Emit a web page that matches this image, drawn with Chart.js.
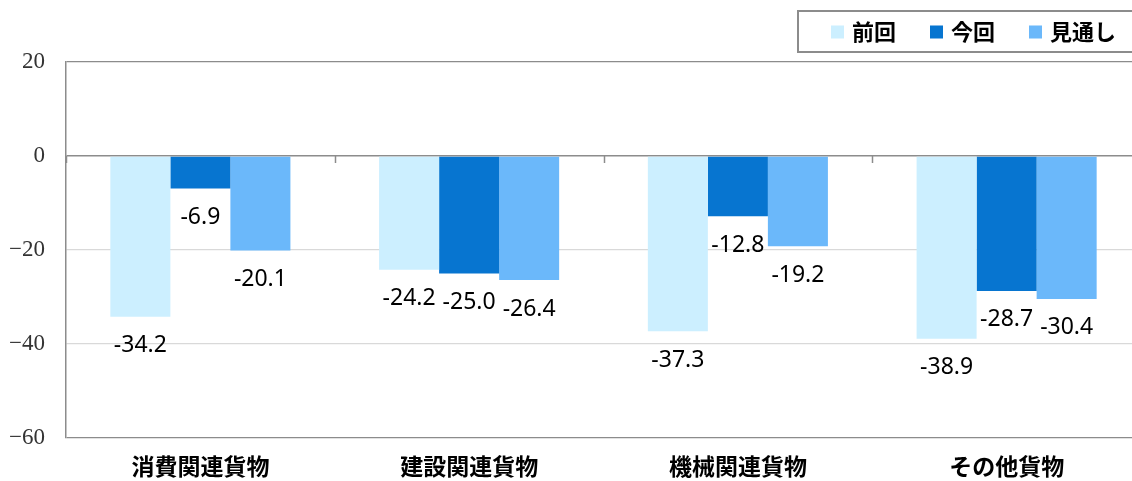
<!DOCTYPE html>
<html>
<head>
<meta charset="utf-8">
<script src="https://cdn.jsdelivr.net/npm/chart.js@4.4.1/dist/chart.umd.min.js"></script>
<style>
  html, body { margin: 0; padding: 0; background: #fff; overflow: hidden; }
  #wrap { width: 1141px; height: 481px; }
</style>
</head>
<body>
<div id="wrap"><canvas id="chart"></canvas></div>
<script>
const categories = ['消費関連貨物', '建設関連貨物', '機械関連貨物', 'その他貨物'];
const seriesNames = ['前回', '今回', '見通し'];
const prevValues = [-34.2, -24.2, -37.3, -38.9];
const currValues = [-6.9, -25.0, -12.8, -28.7];
const outlookValues = [-20.1, -26.4, -19.2, -30.4];
const yMin = -60, yMax = 20, yStep = 20;
const colors = ['#ccefff', '#0775d0', '#6bb8fa'];

const AXIS_GRAY = '#8c8c8c';
const GRID_GRAY = '#d9d9d9';

// numbers under each bar end
const valueLabels = {
  id: 'valueLabels',
  afterDatasetsDraw(chart) {
    const ctx = chart.ctx;
    ctx.save();
    ctx.font = '23px "Noto Sans"';
    ctx.fillStyle = '#000';
    ctx.textAlign = 'center';
    ctx.textBaseline = 'middle';
    chart.data.datasets.forEach((ds, i) => {
      chart.getDatasetMeta(i).data.forEach((bar, j) => {
        ctx.fillText(ds.data[j].toFixed(1), bar.x, bar.y + 29);
      });
    });
    ctx.restore();
  }
};

// small tick marks on the zero line between categories
const zeroTicks = {
  id: 'zeroTicks',
  afterDraw(chart) {
    const x = chart.scales.x, y = chart.scales.y;
    const y0 = y.getPixelForValue(0);
    const ctx = chart.ctx;
    ctx.save();
    ctx.strokeStyle = AXIS_GRAY;
    ctx.lineWidth = 1.5;
    for (let i = 0; i <= categories.length; i++) {
      const px = Math.round(x.getPixelForValue(i - 0.5)) + 0.5;
      ctx.beginPath();
      ctx.moveTo(px, y0);
      ctx.lineTo(px, y0 + 7);
      ctx.stroke();
    }
    ctx.restore();
  }
};

// boxed legend, top right
const boxLegend = {
  id: 'boxLegend',
  afterDraw(chart) {
    const ctx = chart.ctx;
    ctx.save();
    ctx.strokeStyle = AXIS_GRAY;
    ctx.lineWidth = 2;
    ctx.strokeRect(798, 11, 400, 41);
    ctx.font = 'bold 22px "Noto Sans CJK JP"';
    ctx.textBaseline = 'middle';
    ctx.textAlign = 'left';
    let x = 831;
    const cy = 32;
    chart.data.datasets.forEach(ds => {
      ctx.fillStyle = ds.backgroundColor;
      ctx.fillRect(x, cy - 6.5, 13, 13);
      x += 13 + 8;
      ctx.fillStyle = '#000';
      ctx.fillText(ds.label, x, cy);
      x += ctx.measureText(ds.label).width + 34;
    });
    ctx.restore();
  }
};

const gridColor = c => {
  const v = c.tick && c.tick.value;
  return (v === 0 || v === yMax || v === yMin) ? AXIS_GRAY : GRID_GRAY;
};

new Chart(document.getElementById('chart'), {
  type: 'bar',
  data: {
    labels: categories,
    datasets: [
      { label: seriesNames[0], data: prevValues, backgroundColor: colors[0] },
      { label: seriesNames[1], data: currValues, backgroundColor: colors[1] },
      { label: seriesNames[2], data: outlookValues, backgroundColor: colors[2] }
    ]
  },
  options: {
    responsive: true,
    maintainAspectRatio: false,
    animation: false,
    layout: { padding: { top: 62, right: 0, bottom: 0, left: 0 } },
    datasets: { bar: { categoryPercentage: 0.67, barPercentage: 1.0, borderWidth: 0 } },
    scales: {
      x: {
        afterFit(scale) { scale.height = 43; },
        grid: { display: false, drawTicks: false },
        border: { display: false },
        ticks: { color: '#000', padding: 14, font: { family: '"Noto Sans CJK JP"', size: 23, weight: 'bold' } }
      },
      y: {
        min: yMin,
        max: yMax,
        afterFit(scale) { scale.width = 66; },
        grid: {
          drawTicks: false,
          color: gridColor,
          lineWidth: c => (c.tick && c.tick.value === 0 ? 1.5 : 1.2)
        },
        border: { color: AXIS_GRAY, width: 1.5 },
        ticks: {
          stepSize: yStep,
          padding: 21,
          color: '#333',
          font: { family: '"Liberation Serif"', size: 23 },
          callback: v => String(v).replace('-', '\u2212')
        }
      }
    },
    plugins: {
      legend: { display: false },
      tooltip: { enabled: false }
    }
  },
  plugins: [valueLabels, zeroTicks, boxLegend]
});
</script>
</body>
</html>
